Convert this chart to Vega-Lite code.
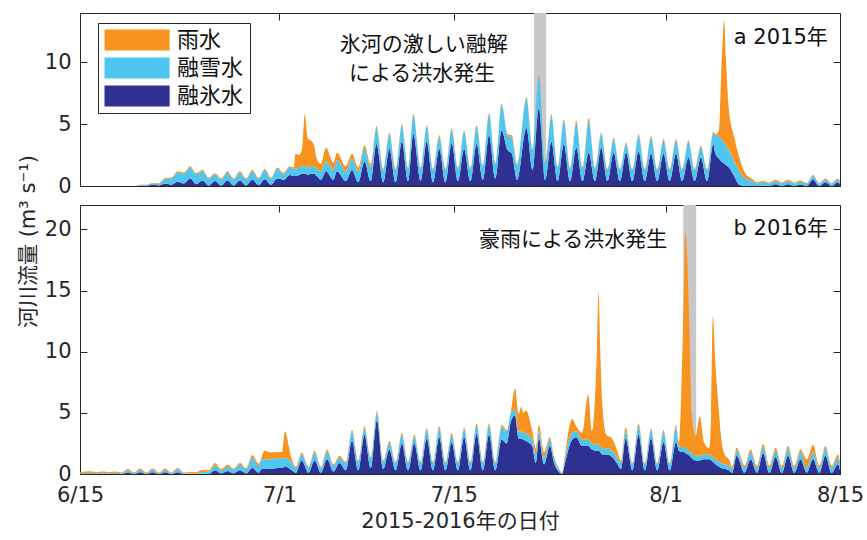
{
  "$schema": "https://vega.github.io/schema/vega-lite/v6.json",
  "padding": {"left": 16, "top": 12, "right": 20, "bottom": 10},
  "background": "white",
  "bounds": "flush",
  "config": {
    "font": "DejaVu Sans, Noto Sans CJK JP",
    "view": {"stroke": "#262626", "strokeWidth": 1},
    "axis": {
      "domain": false, "grid": false, "tickColor": "#262626", "tickSize": -7, "tickWidth": 1,
      "labelColor": "#262626", "labelFontSize": 21, "labelFont": "DejaVu Sans, Noto Sans CJK JP",
      "titleFontSize": 21, "titleFontWeight": "normal", "titleColor": "#262626", "titleFont": "DejaVu Sans, Noto Sans CJK JP",
      "labelFlush": false, "labelOverlap": false
    },
    "text": {"font": "DejaVu Sans, Noto Sans CJK JP", "fontSize": 21, "color": "#111111", "baseline": "middle"}
  },
  "datasets": {
    "band2015": [{"s": "2015-07-21T10:30Z", "e": "2015-07-22T10:00Z"}],
    "band2016": [{"s": "2016-08-02T10:00Z", "e": "2016-08-03T11:00Z"}],
    "note2015": [
      {"t": "2015-07-12T14:00Z", "v": 11.4, "label": "氷河の激しい融解"},
      {"t": "2015-07-12T11:00Z", "v": 9.1, "label": "による洪水発生"},
      {"t": "2015-08-10T06:00Z", "v": 12.0, "label": "a 2015年"}
    ],
    "note2016": [
      {"t": "2016-07-24T14:00Z", "v": 19.1, "label": "豪雨による洪水発生"},
      {"t": "2016-08-10T06:00Z", "v": 20.0, "label": "b 2016年"}
    ],
    "y2015": [
      {"t":"2015-06-15T00:00Z","融氷水":0,"融雪水":0,"雨水":0},
      {"t":"2015-06-19T12:00Z","融氷水":0,"融雪水":0,"雨水":0},
      {"t":"2015-06-19T20:00Z","融氷水":0.03,"融雪水":0.05,"雨水":0.03},
      {"t":"2015-06-20T08:00Z","融氷水":0.03,"融雪水":0.05,"雨水":0.03},
      {"t":"2015-06-20T20:00Z","融氷水":0.1,"融雪水":0.1,"雨水":0.05},
      {"t":"2015-06-21T08:00Z","融氷水":0.05,"融雪水":0.15,"雨水":0.05},
      {"t":"2015-06-21T20:00Z","融氷水":0.2,"融雪水":0.37,"雨水":0.08},
      {"t":"2015-06-22T08:00Z","融氷水":0.1,"融雪水":0.5,"雨水":0.08},
      {"t":"2015-06-22T20:00Z","融氷水":0.35,"融雪水":0.75,"雨水":0.1},
      {"t":"2015-06-23T08:00Z","融氷水":0.2,"融雪水":0.8,"雨水":0.1},
      {"t":"2015-06-23T20:00Z","融氷水":0.6,"融雪水":0.9,"雨水":0.1},
      {"t":"2015-06-24T08:00Z","融氷水":0.15,"融雪水":0.8,"雨水":0.1},
      {"t":"2015-06-24T20:00Z","融氷水":0.45,"融雪水":0.75,"雨水":0.1},
      {"t":"2015-06-25T08:00Z","融氷水":0.05,"融雪水":0.55,"雨水":0.08},
      {"t":"2015-06-25T20:00Z","融氷水":0.4,"融雪水":0.55,"雨水":0.08},
      {"t":"2015-06-26T08:00Z","融氷水":0.05,"融雪水":0.5,"雨水":0.08},
      {"t":"2015-06-26T20:00Z","融氷水":0.45,"融雪水":0.65,"雨水":0.1},
      {"t":"2015-06-27T08:00Z","融氷水":0.05,"融雪水":0.5,"雨水":0.08},
      {"t":"2015-06-27T20:00Z","融氷水":0.45,"融雪水":0.65,"雨水":0.1},
      {"t":"2015-06-28T08:00Z","融氷水":0.05,"融雪水":0.5,"雨水":0.08},
      {"t":"2015-06-28T20:00Z","融氷水":0.5,"融雪水":0.7,"雨水":0.1},
      {"t":"2015-06-29T08:00Z","融氷水":0.08,"融雪水":0.5,"雨水":0.08},
      {"t":"2015-06-29T20:00Z","融氷水":0.55,"融雪水":0.75,"雨水":0.1},
      {"t":"2015-06-30T08:00Z","融氷水":0.1,"融雪水":0.5,"雨水":0.08},
      {"t":"2015-06-30T20:00Z","融氷水":0.6,"融雪水":0.8,"雨水":0.1},
      {"t":"2015-07-01T08:00Z","融氷水":0.5,"融雪水":0.5,"雨水":0.1},
      {"t":"2015-07-01T20:00Z","融氷水":0.9,"融雪水":0.6,"雨水":0.1},
      {"t":"2015-07-02T04:00Z","融氷水":0.8,"融雪水":0.6,"雨水":0.1},
      {"t":"2015-07-02T07:00Z","融氷水":0.8,"融雪水":0.6,"雨水":1.2},
      {"t":"2015-07-02T14:00Z","融氷水":0.9,"融雪水":0.6,"雨水":1.0},
      {"t":"2015-07-02T20:00Z","融氷水":1.0,"融雪水":0.6,"雨水":1.5},
      {"t":"2015-07-03T01:00Z","融氷水":1.0,"融雪水":0.6,"雨水":4.2},
      {"t":"2015-07-03T07:00Z","融氷水":0.9,"融雪水":0.6,"雨水":2.3},
      {"t":"2015-07-03T12:00Z","融氷水":1.0,"融雪水":0.6,"雨水":2.1},
      {"t":"2015-07-03T19:00Z","融氷水":1.0,"融雪水":0.6,"雨水":1.65},
      {"t":"2015-07-04T00:00Z","融氷水":0.8,"融雪水":0.6,"雨水":0.8},
      {"t":"2015-07-04T08:00Z","融氷水":0.5,"融雪水":0.7,"雨水":0.6},
      {"t":"2015-07-04T18:00Z","融氷水":1.2,"融雪水":0.8,"雨水":1.1},
      {"t":"2015-07-05T08:00Z","融氷水":0.5,"融雪水":0.8,"雨水":0.6},
      {"t":"2015-07-05T15:00Z","融氷水":1.2,"融雪水":0.9,"雨水":0.6},
      {"t":"2015-07-06T08:00Z","融氷水":0.4,"融雪水":0.8,"雨水":0.4},
      {"t":"2015-07-06T20:00Z","融氷水":1.3,"融雪水":0.9,"雨水":0.4},
      {"t":"2015-07-07T08:00Z","融氷水":0.3,"融雪水":0.9,"雨水":0.3},
      {"t":"2015-07-07T20:00Z","融氷水":2.0,"融雪水":1.1,"雨水":0.2},
      {"t":"2015-07-08T08:00Z","融氷水":0.4,"融雪水":1.1,"雨水":0.3},
      {"t":"2015-07-08T19:00Z","融氷水":3.4,"融雪水":1.3,"雨水":0.15},
      {"t":"2015-07-09T08:00Z","融氷水":0.3,"融雪水":1.0,"雨水":0.1},
      {"t":"2015-07-09T20:00Z","融氷水":3.0,"融雪水":1.2,"雨水":0.1},
      {"t":"2015-07-10T08:00Z","融氷水":0.3,"融雪水":1.0,"雨水":0.1},
      {"t":"2015-07-10T20:00Z","融氷水":3.6,"融雪水":1.3,"雨水":0.1},
      {"t":"2015-07-11T08:00Z","融氷水":0.4,"融雪水":1.0,"雨水":0.1},
      {"t":"2015-07-11T18:00Z","融氷水":4.2,"融雪水":1.55,"雨水":0.1},
      {"t":"2015-07-12T08:00Z","融氷水":0.4,"融雪水":1.0,"雨水":0.1},
      {"t":"2015-07-12T20:00Z","融氷水":3.6,"融雪水":1.2,"雨水":0.1},
      {"t":"2015-07-13T08:00Z","融氷水":0.3,"融雪水":1.0,"雨水":0.1},
      {"t":"2015-07-13T20:00Z","融氷水":3.0,"融雪水":1.0,"雨水":0.1},
      {"t":"2015-07-14T08:00Z","融氷水":0.3,"融雪水":1.0,"雨水":0.1},
      {"t":"2015-07-14T20:00Z","融氷水":3.5,"融雪水":1.1,"雨水":0.1},
      {"t":"2015-07-15T08:00Z","融氷水":0.4,"融雪水":1.0,"雨水":0.1},
      {"t":"2015-07-15T20:00Z","融氷水":3.0,"融雪水":1.4,"雨水":0.1},
      {"t":"2015-07-16T08:00Z","融氷水":0.4,"融雪水":1.0,"雨水":0.1},
      {"t":"2015-07-16T20:00Z","融氷水":3.4,"融雪水":1.4,"雨水":0.1},
      {"t":"2015-07-17T08:00Z","融氷水":0.5,"融雪水":1.1,"雨水":0.1},
      {"t":"2015-07-17T20:00Z","融氷水":4.1,"融雪水":1.7,"雨水":0.1},
      {"t":"2015-07-18T08:00Z","融氷水":0.6,"融雪水":1.2,"雨水":0.1},
      {"t":"2015-07-18T20:00Z","融氷水":4.5,"融雪水":2.1,"雨水":0.1},
      {"t":"2015-07-19T08:00Z","融氷水":2.9,"融雪水":1.2,"雨水":0.1},
      {"t":"2015-07-19T16:00Z","融氷水":2.6,"融雪水":1.3,"雨水":0.2},
      {"t":"2015-07-20T02:00Z","融氷水":0.5,"融雪水":1.2,"雨水":0.1},
      {"t":"2015-07-20T20:00Z","融氷水":4.7,"融雪水":2.4,"雨水":0.1},
      {"t":"2015-07-21T08:00Z","融氷水":1.3,"融雪水":1.6,"雨水":0.1},
      {"t":"2015-07-21T20:00Z","融氷水":6.3,"融雪水":2.6,"雨水":0.1},
      {"t":"2015-07-22T08:00Z","融氷水":0.5,"融雪水":1.3,"雨水":0.1},
      {"t":"2015-07-22T20:00Z","融氷水":3.6,"融雪水":2.1,"雨水":0.1},
      {"t":"2015-07-23T08:00Z","融氷水":0.4,"融雪水":1.1,"雨水":0.1},
      {"t":"2015-07-23T20:00Z","融氷水":3.4,"融雪水":1.9,"雨水":0.1},
      {"t":"2015-07-24T08:00Z","融氷水":0.4,"融雪水":1.0,"雨水":0.1},
      {"t":"2015-07-24T20:00Z","融氷水":3.1,"融雪水":2.0,"雨水":0.2},
      {"t":"2015-07-25T08:00Z","融氷水":0.4,"融雪水":1.0,"雨水":0.15},
      {"t":"2015-07-25T20:00Z","融氷水":2.7,"融雪水":2.6,"雨水":0.2},
      {"t":"2015-07-26T08:00Z","融氷水":0.4,"融雪水":1.0,"雨水":0.1},
      {"t":"2015-07-26T20:00Z","融氷水":3.1,"融雪水":1.1,"雨水":0.1},
      {"t":"2015-07-27T08:00Z","融氷水":0.4,"融雪水":0.9,"雨水":0.1},
      {"t":"2015-07-27T20:00Z","融氷水":2.7,"融雪水":1.1,"雨水":0.1},
      {"t":"2015-07-28T08:00Z","融氷水":0.4,"融雪水":0.9,"雨水":0.1},
      {"t":"2015-07-28T20:00Z","融氷水":2.7,"融雪水":0.7,"雨水":0.1},
      {"t":"2015-07-29T08:00Z","融氷水":0.4,"融雪水":0.9,"雨水":0.1},
      {"t":"2015-07-29T20:00Z","融氷水":2.8,"融雪水":1.3,"雨水":0.1},
      {"t":"2015-07-30T08:00Z","融氷水":0.4,"融雪水":0.9,"雨水":0.1},
      {"t":"2015-07-30T20:00Z","融氷水":2.6,"融雪水":1.35,"雨水":0.1},
      {"t":"2015-07-31T08:00Z","融氷水":0.4,"融雪水":0.9,"雨水":0.1},
      {"t":"2015-07-31T20:00Z","融氷水":2.6,"融雪水":1.1,"雨水":0.1},
      {"t":"2015-08-01T08:00Z","融氷水":0.4,"融雪水":0.9,"雨水":0.1},
      {"t":"2015-08-01T20:00Z","融氷水":2.6,"融雪水":1.1,"雨水":0.1},
      {"t":"2015-08-02T08:00Z","融氷水":0.4,"融雪水":0.9,"雨水":0.1},
      {"t":"2015-08-02T20:00Z","融氷水":2.3,"融雪水":1.3,"雨水":0.1},
      {"t":"2015-08-03T08:00Z","融氷水":0.4,"融雪水":0.9,"雨水":0.1},
      {"t":"2015-08-03T20:00Z","融氷水":2.3,"融雪水":0.85,"雨水":0.1},
      {"t":"2015-08-04T08:00Z","融氷水":0.4,"融雪水":0.9,"雨水":0.1},
      {"t":"2015-08-04T20:00Z","融氷水":3.4,"融雪水":0.9,"雨水":0.1},
      {"t":"2015-08-05T00:00Z","融氷水":2.6,"融雪水":1.5,"雨水":0.1},
      {"t":"2015-08-05T07:00Z","融氷水":2.2,"融雪水":1.8,"雨水":0.5},
      {"t":"2015-08-05T11:00Z","融氷水":2.0,"融雪水":1.8,"雨水":5.0},
      {"t":"2015-08-05T17:00Z","融氷水":1.8,"融雪水":1.7,"雨水":9.9},
      {"t":"2015-08-05T20:00Z","融氷水":1.7,"融雪水":1.6,"雨水":7.2},
      {"t":"2015-08-06T02:00Z","融氷水":1.5,"融雪水":1.4,"雨水":3.3},
      {"t":"2015-08-06T12:00Z","融氷水":0.8,"融雪水":1.2,"雨水":2.0},
      {"t":"2015-08-06T22:00Z","融氷水":0.1,"融雪水":1.1,"雨水":1.1},
      {"t":"2015-08-07T10:00Z","融氷水":0,"融雪水":0.6,"雨水":0.4},
      {"t":"2015-08-07T22:00Z","融氷水":0,"融雪水":0.4,"雨水":0.2},
      {"t":"2015-08-08T08:00Z","融氷水":0,"融雪水":0.2,"雨水":0.1},
      {"t":"2015-08-08T20:00Z","融氷水":0.05,"融雪水":0.25,"雨水":0.1},
      {"t":"2015-08-09T08:00Z","融氷水":0,"融雪水":0.2,"雨水":0.08},
      {"t":"2015-08-09T20:00Z","融氷水":0.15,"融雪水":0.25,"雨水":0.1},
      {"t":"2015-08-10T08:00Z","融氷水":0,"融雪水":0.2,"雨水":0.08},
      {"t":"2015-08-10T20:00Z","融氷水":0.15,"融雪水":0.25,"雨水":0.1},
      {"t":"2015-08-11T08:00Z","融氷水":0,"融雪水":0.2,"雨水":0.08},
      {"t":"2015-08-11T20:00Z","融氷水":0.1,"融雪水":0.25,"雨水":0.1},
      {"t":"2015-08-12T08:00Z","融氷水":0,"融雪水":0.2,"雨水":0.05},
      {"t":"2015-08-12T20:00Z","融氷水":0.5,"融雪水":0.3,"雨水":0.1},
      {"t":"2015-08-13T08:00Z","融氷水":0,"融雪水":0.2,"雨水":0.05},
      {"t":"2015-08-13T20:00Z","融氷水":0.3,"融雪水":0.25,"雨水":0.05},
      {"t":"2015-08-14T08:00Z","融氷水":0,"融雪水":0.2,"雨水":0.05},
      {"t":"2015-08-14T20:00Z","融氷水":0.3,"融雪水":0.25,"雨水":0.05},
      {"t":"2015-08-15T00:00Z","融氷水":0.1,"融雪水":0.2,"雨水":0.05}
    ],
    "y2016": [
      {"t":"2016-06-15T00:00Z","融氷水":0,"融雪水":0.05,"雨水":0.1},
      {"t":"2016-06-15T20:00Z","融氷水":0,"融雪水":0.1,"雨水":0.12},
      {"t":"2016-06-16T08:00Z","融氷水":0,"融雪水":0.05,"雨水":0.1},
      {"t":"2016-06-16T20:00Z","融氷水":0,"融雪水":0.1,"雨水":0.1},
      {"t":"2016-06-17T08:00Z","融氷水":0,"融雪水":0.05,"雨水":0.1},
      {"t":"2016-06-17T20:00Z","融氷水":0,"融雪水":0.1,"雨水":0.1},
      {"t":"2016-06-18T08:00Z","融氷水":0,"融雪水":0.05,"雨水":0.08},
      {"t":"2016-06-18T20:00Z","融氷水":0.1,"融雪水":0.2,"雨水":0.1},
      {"t":"2016-06-19T08:00Z","融氷水":0,"融雪水":0.05,"雨水":0.08},
      {"t":"2016-06-19T20:00Z","融氷水":0.15,"融雪水":0.2,"雨水":0.1},
      {"t":"2016-06-20T08:00Z","融氷水":0,"融雪水":0.05,"雨水":0.08},
      {"t":"2016-06-20T20:00Z","融氷水":0.15,"融雪水":0.2,"雨水":0.1},
      {"t":"2016-06-21T08:00Z","融氷水":0,"融雪水":0.05,"雨水":0.08},
      {"t":"2016-06-21T20:00Z","融氷水":0.15,"融雪水":0.2,"雨水":0.1},
      {"t":"2016-06-22T08:00Z","融氷水":0,"融雪水":0.05,"雨水":0.08},
      {"t":"2016-06-22T20:00Z","融氷水":0.15,"融雪水":0.25,"雨水":0.1},
      {"t":"2016-06-23T08:00Z","融氷水":0,"融雪水":0.05,"雨水":0.08},
      {"t":"2016-06-23T20:00Z","融氷水":0,"融雪水":0.05,"雨水":0.12},
      {"t":"2016-06-24T08:00Z","融氷水":0,"融雪水":0.05,"雨水":0.1},
      {"t":"2016-06-24T20:00Z","融氷水":0.02,"融雪水":0.15,"雨水":0.15},
      {"t":"2016-06-25T08:00Z","融氷水":0,"融雪水":0.2,"雨水":0.1},
      {"t":"2016-06-25T20:00Z","融氷水":0.3,"融雪水":0.4,"雨水":0.2},
      {"t":"2016-06-26T08:00Z","融氷水":0.05,"融雪水":0.25,"雨水":0.1},
      {"t":"2016-06-26T20:00Z","融氷水":0.25,"融雪水":0.35,"雨水":0.15},
      {"t":"2016-06-27T08:00Z","融氷水":0.05,"融雪水":0.3,"雨水":0.1},
      {"t":"2016-06-27T20:00Z","融氷水":0.3,"融雪水":0.45,"雨水":0.15},
      {"t":"2016-06-28T08:00Z","融氷水":0.05,"融雪水":0.35,"雨水":0.1},
      {"t":"2016-06-28T20:00Z","融氷水":0.5,"融雪水":0.85,"雨水":0.2},
      {"t":"2016-06-29T08:00Z","融氷水":0.1,"融雪水":0.55,"雨水":0.2},
      {"t":"2016-06-29T14:00Z","融氷水":0.4,"融雪水":0.8,"雨水":0.2},
      {"t":"2016-06-29T19:00Z","融氷水":0.45,"融雪水":0.75,"雨水":0.7},
      {"t":"2016-06-30T08:00Z","融氷水":0.4,"融雪水":0.8,"雨水":0.55},
      {"t":"2016-06-30T20:00Z","融氷水":0.5,"融雪水":0.8,"雨水":0.5},
      {"t":"2016-07-01T05:00Z","融氷水":0.5,"融雪水":0.75,"雨水":0.55},
      {"t":"2016-07-01T11:00Z","融氷水":0.6,"融雪水":0.7,"雨水":2.2},
      {"t":"2016-07-01T18:00Z","融氷水":0.5,"融雪水":0.7,"雨水":1.1},
      {"t":"2016-07-02T00:00Z","融氷水":0.3,"融雪水":0.6,"雨水":0.3},
      {"t":"2016-07-02T08:00Z","融氷水":0.1,"融雪水":0.4,"雨水":0.1},
      {"t":"2016-07-02T19:00Z","融氷水":1.1,"融雪水":0.5,"雨水":0.15},
      {"t":"2016-07-03T08:00Z","融氷水":0.1,"融雪水":0.4,"雨水":0.1},
      {"t":"2016-07-03T20:00Z","融氷水":1.1,"融雪水":0.65,"雨水":0.15},
      {"t":"2016-07-04T08:00Z","融氷水":0.1,"融雪水":0.4,"雨水":0.1},
      {"t":"2016-07-04T20:00Z","融氷水":1.2,"融雪水":0.65,"雨水":0.15},
      {"t":"2016-07-05T08:00Z","融氷水":0.2,"融雪水":0.5,"雨水":0.1},
      {"t":"2016-07-05T20:00Z","融氷水":0.9,"融雪水":0.45,"雨水":0.15},
      {"t":"2016-07-06T08:00Z","融氷水":0.3,"融雪水":0.6,"雨水":0.1},
      {"t":"2016-07-06T20:00Z","融氷水":2.7,"融雪水":0.75,"雨水":0.15},
      {"t":"2016-07-07T08:00Z","融氷水":0.3,"融雪水":0.7,"雨水":0.1},
      {"t":"2016-07-07T20:00Z","融氷水":3.2,"融雪水":0.55,"雨水":0.15},
      {"t":"2016-07-08T08:00Z","融氷水":0.5,"融雪水":0.8,"雨水":0.1},
      {"t":"2016-07-08T20:00Z","融氷水":4.4,"融雪水":0.6,"雨水":0.15},
      {"t":"2016-07-09T08:00Z","融氷水":0.4,"融雪水":0.6,"雨水":0.1},
      {"t":"2016-07-09T20:00Z","融氷水":2.0,"融雪水":0.55,"雨水":0.15},
      {"t":"2016-07-10T08:00Z","融氷水":0.3,"融雪水":0.6,"雨水":0.1},
      {"t":"2016-07-10T20:00Z","融氷水":2.5,"融雪水":0.7,"雨水":0.15},
      {"t":"2016-07-11T08:00Z","融氷水":0.3,"融雪水":0.6,"雨水":0.1},
      {"t":"2016-07-11T20:00Z","融氷水":2.5,"融雪水":0.55,"雨水":0.15},
      {"t":"2016-07-12T08:00Z","融氷水":0.3,"融雪水":0.6,"雨水":0.1},
      {"t":"2016-07-12T20:00Z","融氷水":2.9,"融雪水":0.7,"雨水":0.15},
      {"t":"2016-07-13T08:00Z","融氷水":0.3,"融雪水":0.6,"雨水":0.1},
      {"t":"2016-07-13T20:00Z","融氷水":3.0,"融雪水":0.75,"雨水":0.15},
      {"t":"2016-07-14T08:00Z","融氷水":0.3,"融雪水":0.6,"雨水":0.1},
      {"t":"2016-07-14T20:00Z","融氷水":2.6,"融雪水":0.6,"雨水":0.15},
      {"t":"2016-07-15T08:00Z","融氷水":0.3,"融雪水":0.6,"雨水":0.1},
      {"t":"2016-07-15T20:00Z","融氷水":3.0,"融雪水":0.65,"雨水":0.15},
      {"t":"2016-07-16T08:00Z","融氷水":0.3,"融雪水":0.6,"雨水":0.1},
      {"t":"2016-07-16T20:00Z","融氷水":3.3,"融雪水":0.7,"雨水":0.15},
      {"t":"2016-07-17T08:00Z","融氷水":0.3,"融雪水":0.6,"雨水":0.1},
      {"t":"2016-07-17T20:00Z","融氷水":3.2,"融雪水":0.8,"雨水":0.15},
      {"t":"2016-07-18T08:00Z","融氷水":0.3,"融雪水":0.6,"雨水":0.1},
      {"t":"2016-07-18T20:00Z","融氷水":2.8,"融雪水":1.05,"雨水":0.15},
      {"t":"2016-07-19T06:00Z","融氷水":2.5,"融雪水":1.0,"雨水":0.1},
      {"t":"2016-07-19T14:00Z","融氷水":4.3,"融雪水":0.7,"雨水":0.1},
      {"t":"2016-07-19T22:00Z","融氷水":4.8,"融雪水":0.5,"雨水":1.7},
      {"t":"2016-07-20T05:00Z","融氷水":2.9,"融雪水":0.6,"雨水":1.4},
      {"t":"2016-07-20T10:00Z","融氷水":2.9,"融雪水":0.6,"雨水":2.0},
      {"t":"2016-07-20T14:00Z","融氷水":2.8,"融雪水":0.6,"雨水":1.6},
      {"t":"2016-07-20T19:00Z","融氷水":2.7,"融雪水":0.6,"雨水":1.9},
      {"t":"2016-07-21T07:00Z","融氷水":2.3,"融雪水":0.6,"雨水":0.7},
      {"t":"2016-07-21T14:00Z","融氷水":0.9,"融雪水":0.7,"雨水":0.5},
      {"t":"2016-07-21T20:00Z","融氷水":2.9,"融雪水":0.6,"雨水":0.5},
      {"t":"2016-07-22T06:00Z","融氷水":0.8,"融雪水":0.6,"雨水":0.4},
      {"t":"2016-07-22T17:00Z","融氷水":2.3,"融雪水":0.5,"雨水":0.2},
      {"t":"2016-07-23T02:00Z","融氷水":0.8,"融雪水":0.4,"雨水":0.1},
      {"t":"2016-07-23T10:00Z","融氷水":0.2,"融雪水":0.2,"雨水":0.1},
      {"t":"2016-07-23T17:00Z","融氷水":0,"融雪水":0.05,"雨水":0.05},
      {"t":"2016-07-23T20:00Z","融氷水":0.5,"融雪水":0.3,"雨水":0.1},
      {"t":"2016-07-24T12:00Z","融氷水":2.8,"融雪水":0.6,"雨水":1.1},
      {"t":"2016-07-24T20:00Z","融氷水":3.0,"融雪水":0.5,"雨水":0.4},
      {"t":"2016-07-25T07:00Z","融氷水":2.3,"融雪水":0.5,"雨水":0.55},
      {"t":"2016-07-25T19:00Z","融氷水":2.3,"融雪水":0.5,"雨水":3.7},
      {"t":"2016-07-26T02:00Z","融氷水":2.0,"融雪水":0.5,"雨水":1.0},
      {"t":"2016-07-26T12:00Z","融氷水":1.9,"融雪水":0.5,"雨水":8.0},
      {"t":"2016-07-26T15:00Z","融氷水":1.9,"融雪水":0.5,"雨水":12.5},
      {"t":"2016-07-26T18:00Z","融氷水":1.8,"融雪水":0.5,"雨水":8.1},
      {"t":"2016-07-26T22:00Z","融氷水":1.6,"融雪水":0.5,"雨水":3.7},
      {"t":"2016-07-27T06:00Z","融氷水":1.6,"融雪水":0.5,"雨水":1.1},
      {"t":"2016-07-27T17:00Z","融氷水":1.4,"融雪水":0.5,"雨水":1.0},
      {"t":"2016-07-28T02:00Z","融氷水":0.9,"融雪水":0.5,"雨水":0.6},
      {"t":"2016-07-28T10:00Z","融氷水":0.4,"融雪水":0.5,"雨水":0.2},
      {"t":"2016-07-28T19:00Z","融氷水":2.9,"融雪水":0.6,"雨水":0.3},
      {"t":"2016-07-29T08:00Z","融氷水":0.3,"融雪水":0.5,"雨水":0.1},
      {"t":"2016-07-29T20:00Z","融氷水":3.2,"融雪水":0.75,"雨水":0.15},
      {"t":"2016-07-30T08:00Z","融氷水":0.3,"融雪水":0.5,"雨水":0.1},
      {"t":"2016-07-30T20:00Z","融氷水":2.9,"融雪水":0.7,"雨水":0.15},
      {"t":"2016-07-31T08:00Z","融氷水":0.3,"融雪水":0.5,"雨水":0.1},
      {"t":"2016-07-31T20:00Z","融氷水":2.6,"融雪水":0.85,"雨水":0.15},
      {"t":"2016-08-01T08:00Z","融氷水":0.3,"融雪水":0.5,"雨水":0.1},
      {"t":"2016-08-01T20:00Z","融氷水":2.6,"融雪水":1.25,"雨水":0.15},
      {"t":"2016-08-02T02:00Z","融氷水":1.9,"融雪水":0.4,"雨水":0.3},
      {"t":"2016-08-02T06:00Z","融氷水":1.8,"融雪水":0.4,"雨水":4.0},
      {"t":"2016-08-02T11:00Z","融氷水":1.8,"融雪水":0.4,"雨水":12.3},
      {"t":"2016-08-02T14:00Z","融氷水":1.7,"融雪水":0.4,"雨水":17.7},
      {"t":"2016-08-02T22:00Z","融氷水":1.5,"融雪水":0.4,"雨水":9.9},
      {"t":"2016-08-03T02:00Z","融氷水":1.3,"融雪水":0.4,"雨水":3.3},
      {"t":"2016-08-03T10:00Z","融氷水":1.1,"融雪水":0.4,"雨水":1.6},
      {"t":"2016-08-03T18:00Z","融氷水":1.1,"融雪水":0.4,"雨水":3.2},
      {"t":"2016-08-04T02:00Z","融氷水":1.2,"融雪水":0.4,"雨水":1.0},
      {"t":"2016-08-04T12:00Z","融氷水":1.2,"融雪水":0.4,"雨水":0.5},
      {"t":"2016-08-04T16:00Z","融氷水":1.1,"融雪水":0.4,"雨水":3.5},
      {"t":"2016-08-04T19:00Z","融氷水":1.0,"融雪水":0.4,"雨水":11.5},
      {"t":"2016-08-05T00:00Z","融氷水":0.8,"融雪水":0.4,"雨水":7.8},
      {"t":"2016-08-05T07:00Z","融氷水":0.6,"融雪水":0.4,"雨水":4.0},
      {"t":"2016-08-05T12:00Z","融氷水":0.5,"融雪水":0.4,"雨水":1.7},
      {"t":"2016-08-05T19:00Z","融氷水":0.4,"融雪水":0.4,"雨水":0.7},
      {"t":"2016-08-06T02:00Z","融氷水":0.3,"融雪水":0.4,"雨水":0.5},
      {"t":"2016-08-06T08:00Z","融氷水":0.1,"融雪水":0.3,"雨水":0.2},
      {"t":"2016-08-06T17:00Z","融氷水":1.5,"融雪水":0.45,"雨水":0.2},
      {"t":"2016-08-07T08:00Z","融氷水":0.1,"融雪水":0.4,"雨水":0.2},
      {"t":"2016-08-07T20:00Z","融氷水":1.2,"融雪水":0.6,"雨水":0.2},
      {"t":"2016-08-08T08:00Z","融氷水":0.1,"融雪水":0.4,"雨水":0.2},
      {"t":"2016-08-08T20:00Z","融氷水":1.7,"融雪水":0.55,"雨水":0.2},
      {"t":"2016-08-09T08:00Z","融氷水":0.1,"融雪水":0.4,"雨水":0.2},
      {"t":"2016-08-09T20:00Z","融氷水":1.4,"融雪水":0.55,"雨水":0.2},
      {"t":"2016-08-10T08:00Z","融氷水":0.1,"融雪水":0.4,"雨水":0.2},
      {"t":"2016-08-10T20:00Z","融氷水":1.5,"融雪水":0.6,"雨水":0.2},
      {"t":"2016-08-11T08:00Z","融氷水":0.1,"融雪水":0.4,"雨水":0.2},
      {"t":"2016-08-11T20:00Z","融氷水":1.2,"融雪水":0.6,"雨水":0.2},
      {"t":"2016-08-12T08:00Z","融氷水":0.1,"融雪水":0.4,"雨水":0.7},
      {"t":"2016-08-12T20:00Z","融氷水":1.2,"融雪水":0.6,"雨水":0.6},
      {"t":"2016-08-13T08:00Z","融氷水":0.1,"融雪水":0.4,"雨水":0.2},
      {"t":"2016-08-13T20:00Z","融氷水":1.5,"融雪水":0.6,"雨水":0.2},
      {"t":"2016-08-14T08:00Z","融氷水":0.1,"融雪水":0.4,"雨水":0.2},
      {"t":"2016-08-14T20:00Z","融氷水":0.8,"融雪水":0.5,"雨水":0.3},
      {"t":"2016-08-15T00:00Z","融氷水":0.3,"融雪水":0.4,"雨水":0.3}
    ]
  },
  "resolve": {"scale": {"x": "independent", "y": "independent", "color": "shared"}, "legend": {"color": "shared"}},
  "spacing": 19,
  "vconcat": [
    {
      "width": 760, "height": 173,
      "layer": [
        {
          "data": {"name": "band2015"},
          "mark": {"type": "rect", "color": "#C8C8C8"},
          "encoding": {
            "x": {"field": "s", "type": "temporal",
              "scale": {"type": "utc", "domain": [{"year": 2015, "month": 6, "date": 15, "utc": true}, {"year": 2015, "month": 8, "date": 15, "utc": true}]},
              "axis": {"orient": "top", "labels": false, "title": null,
                "values": [{"year": 2015, "month": 6, "date": 15, "utc": true}, {"year": 2015, "month": 7, "date": 1, "utc": true}, {"year": 2015, "month": 7, "date": 15, "utc": true}, {"year": 2015, "month": 8, "date": 1, "utc": true}, {"year": 2015, "month": 8, "date": 15, "utc": true}]}},
            "x2": {"field": "e"}
          }
        },
        {
          "data": {"name": "y2015"},
          "transform": [{"fold": ["融氷水", "融雪水", "雨水"], "as": ["kind", "value"]}],
          "mark": {"type": "area", "interpolate": "monotone"},
          "encoding": {
            "x": {"field": "t", "type": "temporal",
              "axis": {"orient": "bottom", "labels": false, "title": null,
                "values": [{"year": 2015, "month": 6, "date": 15, "utc": true}, {"year": 2015, "month": 7, "date": 1, "utc": true}, {"year": 2015, "month": 7, "date": 15, "utc": true}, {"year": 2015, "month": 8, "date": 1, "utc": true}, {"year": 2015, "month": 8, "date": 15, "utc": true}]}},
            "y": {"field": "value", "type": "quantitative", "stack": "zero",
              "scale": {"domain": [0, 14], "nice": false},
              "axis": {"values": [0, 5, 10], "title": null, "labelPadding": 16}},
            "color": {"field": "kind", "type": "nominal",
              "scale": {"domain": ["雨水", "融雪水", "融氷水"], "range": ["#F7931E", "#4EC6F0", "#2E3192"]},
              "legend": {"title": null, "orient": "none", "legendX": 18, "legendY": 10,
                "symbolType": "M-1,-1H5.2V1H-1Z", "symbolSize": 441, "symbolStrokeWidth": 0,
                "labelFontSize": 22, "labelFont": "Noto Sans CJK JP", "labelColor": "#111111", "labelOffset": 51,
                "rowPadding": 6, "padding": 6, "strokeColor": "#262626", "fillColor": "white"}},
            "order": {"field": "kind", "type": "ordinal", "sort": "ascending"}
          }
        },
        {
          "data": {"name": "note2015"},
          "mark": {"type": "text"},
          "encoding": {
            "x": {"field": "t", "type": "temporal", "axis": null},
            "y": {"field": "v", "type": "quantitative",
              "axis": {"orient": "right", "labels": false, "title": null, "values": [0, 5, 10]}},
            "text": {"field": "label"}
          }
        }
      ],
      "resolve": {"axis": {"x": "independent", "y": "independent"}}
    },
    {
      "width": 760, "height": 269,
      "layer": [
        {
          "data": {"name": "band2016"},
          "mark": {"type": "rect", "color": "#C8C8C8"},
          "encoding": {
            "x": {"field": "s", "type": "temporal",
              "scale": {"type": "utc", "domain": [{"year": 2016, "month": 6, "date": 15, "utc": true}, {"year": 2016, "month": 8, "date": 15, "utc": true}]},
              "axis": {"orient": "top", "labels": false, "title": null,
                "values": [{"year": 2016, "month": 6, "date": 15, "utc": true}, {"year": 2016, "month": 7, "date": 1, "utc": true}, {"year": 2016, "month": 7, "date": 15, "utc": true}, {"year": 2016, "month": 8, "date": 1, "utc": true}, {"year": 2016, "month": 8, "date": 15, "utc": true}]}},
            "x2": {"field": "e"}
          }
        },
        {
          "data": {"name": "y2016"},
          "transform": [{"fold": ["融氷水", "融雪水", "雨水"], "as": ["kind", "value"]}],
          "mark": {"type": "area", "interpolate": "monotone"},
          "encoding": {
            "x": {"field": "t", "type": "temporal",
              "axis": {"orient": "bottom", "format": "%-m/%-d", "labelPadding": 17,
                "title": "2015-2016年の日付", "titlePadding": 5,
                "values": [{"year": 2016, "month": 6, "date": 15, "utc": true}, {"year": 2016, "month": 7, "date": 1, "utc": true}, {"year": 2016, "month": 7, "date": 15, "utc": true}, {"year": 2016, "month": 8, "date": 1, "utc": true}, {"year": 2016, "month": 8, "date": 15, "utc": true}]}},
            "y": {"field": "value", "type": "quantitative", "stack": "zero",
              "scale": {"domain": [0, 22], "nice": false},
              "axis": {"values": [0, 5, 10, 15, 20], "labelPadding": 16,
                "title": "河川流量 (m³ s⁻¹)", "titleX": -52, "titleY": 36, "titleBaseline": "middle", "titleAlign": "center"}},
            "color": {"field": "kind", "type": "nominal",
              "scale": {"domain": ["雨水", "融雪水", "融氷水"], "range": ["#F7931E", "#4EC6F0", "#2E3192"]}},
            "order": {"field": "kind", "type": "ordinal", "sort": "ascending"}
          }
        },
        {
          "data": {"name": "note2016"},
          "mark": {"type": "text"},
          "encoding": {
            "x": {"field": "t", "type": "temporal", "axis": null},
            "y": {"field": "v", "type": "quantitative",
              "axis": {"orient": "right", "labels": false, "title": null, "values": [0, 5, 10, 15, 20]}},
            "text": {"field": "label"}
          }
        }
      ],
      "resolve": {"axis": {"x": "independent", "y": "independent"}}
    }
  ]
}
